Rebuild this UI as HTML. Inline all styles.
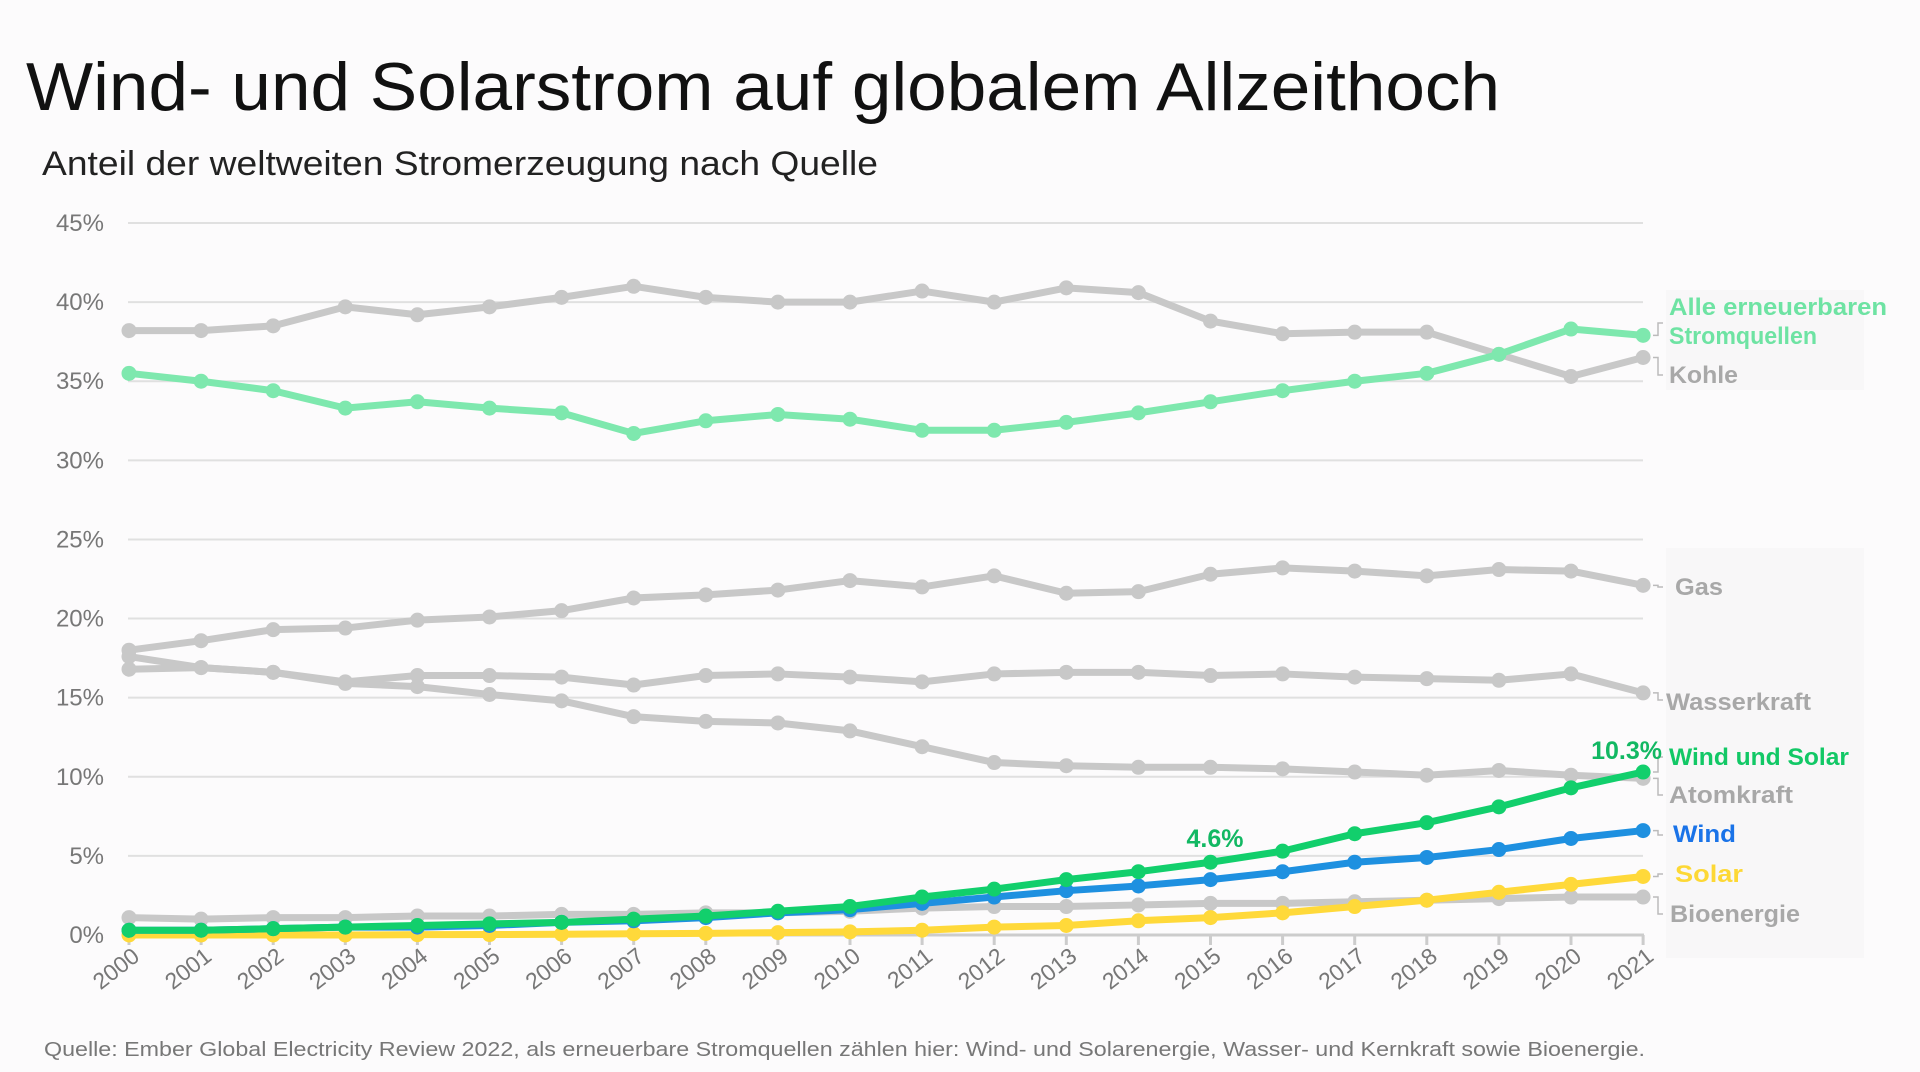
<!DOCTYPE html>
<html><head><meta charset="utf-8"><style>
html,body{margin:0;padding:0;background:#fcfbfc;}
svg{display:block;font-family:"Liberation Sans",sans-serif;}
</style></head><body>
<svg id="s" width="1920" height="1072" viewBox="0 0 1920 1072">
<rect width="1920" height="1072" fill="#fcfbfc"/>
<rect x="1666" y="290" width="198" height="100" fill="#f8f7f8"/>
<rect x="1666" y="548" width="198" height="410" fill="#f8f7f8"/>
<text x="26" y="110" font-size="68" fill="#111" textLength="1474" lengthAdjust="spacingAndGlyphs">Wind- und Solarstrom auf globalem Allzeithoch</text>
<text x="42" y="175" font-size="34" fill="#222" textLength="836" lengthAdjust="spacingAndGlyphs">Anteil der weltweiten Stromerzeugung nach Quelle</text>
<text x="44" y="1056" font-size="20" fill="#777" textLength="1601" lengthAdjust="spacingAndGlyphs">Quelle: Ember Global Electricity Review 2022, als erneuerbare Stromquellen zählen hier: Wind- und Solarenergie, Wasser- und Kernkraft sowie Bioenergie.</text>
<g id="g"></g>
</svg>
<script>
var g=document.getElementById('g'),NS='http://www.w3.org/2000/svg';
function el(t,a,txt){var e=document.createElementNS(NS,t);for(var k in a)e.setAttribute(k,a[k]);if(txt!==undefined)e.textContent=txt;g.appendChild(e);return e;}
var X0=129,DX=72.1,Y0=935,DY=79.11/5;
function X(i){return X0+i*DX}function Y(v){return Y0-v*DY}
for(var p=0;p<=45;p+=5){var y=Y(p);
 if(p>0)el('line',{x1:128,x2:1643,y1:y,y2:y,stroke:'#e0e0e0','stroke-width':2});
 el('text',{x:104,y:y+8,'font-size':24,fill:'#777','text-anchor':'end'},p+'%');}
el('line',{x1:128,x2:1644,y1:Y0,y2:Y0,stroke:'#ccc','stroke-width':3});
for(var i=0;i<22;i++){el('line',{x1:X(i),x2:X(i),y1:Y0,y2:Y0+10,stroke:'#ccc','stroke-width':3});
 var tx=X(i)+12,ty=Y0+24;
 el('text',{x:tx,y:ty,'font-size':23,fill:'#777','text-anchor':'end',transform:'rotate(-38 '+tx+' '+ty+')'},String(2000+i));}
var S=[
['#c8c8c8',[38.2,38.2,38.5,39.7,39.2,39.7,40.3,41.0,40.3,40.0,40.0,40.7,40.0,40.9,40.6,38.8,38.0,38.1,38.1,36.7,35.3,36.5]],
['#c8c8c8',[18.0,18.6,19.3,19.4,19.9,20.1,20.5,21.3,21.5,21.8,22.4,22.0,22.7,21.6,21.7,22.8,23.2,23.0,22.7,23.1,23.0,22.1]],
['#c8c8c8',[16.8,16.9,16.6,16.0,16.4,16.4,16.3,15.8,16.4,16.5,16.3,16.0,16.5,16.6,16.6,16.4,16.5,16.3,16.2,16.1,16.5,15.3]],
['#c8c8c8',[17.6,16.9,16.6,15.9,15.7,15.2,14.8,13.8,13.5,13.4,12.9,11.9,10.9,10.7,10.6,10.6,10.5,10.3,10.1,10.4,10.1,9.9]],
['#c8c8c8',[1.1,1.0,1.1,1.1,1.2,1.2,1.3,1.3,1.4,1.4,1.5,1.7,1.8,1.8,1.9,2.0,2.0,2.1,2.2,2.3,2.4,2.4]],
['#7ee8ae',[35.5,35.0,34.4,33.3,33.7,33.3,33.0,31.7,32.5,32.9,32.6,31.9,31.9,32.4,33.0,33.7,34.4,35.0,35.5,36.7,38.3,37.9]],
['#ffd93a',[0,0,0,0,0.02,0.03,0.05,0.08,0.1,0.15,0.2,0.3,0.5,0.6,0.9,1.1,1.4,1.8,2.2,2.7,3.2,3.7]],
['#1e90e0',[0.3,0.3,0.4,0.5,0.5,0.6,0.8,0.9,1.1,1.4,1.6,2.0,2.4,2.8,3.1,3.5,4.0,4.6,4.9,5.4,6.1,6.6]],
['#12cf6c',[0.3,0.3,0.4,0.5,0.6,0.7,0.8,1.0,1.2,1.5,1.8,2.4,2.9,3.5,4.0,4.6,5.3,6.4,7.1,8.1,9.3,10.3]]];
S.forEach(function(s){var pts=s[1].map(function(v,i){return X(i)+','+Y(v)}).join(' ');
 el('polyline',{points:pts,fill:'none',stroke:s[0],'stroke-width':7,'stroke-linejoin':'round'});
 s[1].forEach(function(v,i){el('circle',{cx:X(i),cy:Y(v),r:7.5,fill:s[0]})});});
// connectors
var C=[[Y(37.9),323],[Y(36.5),375],[Y(22.1),587],[Y(15.3),700],[Y(10.3),757],[Y(9.9),795],[Y(6.6),835],[Y(3.7),874],[Y(2.4),914]];
C.forEach(function(c){el('polyline',{points:'1653,'+c[0]+' 1658,'+c[0]+' 1658,'+c[1]+' 1663,'+c[1],fill:'none',stroke:'#bbb','stroke-width':1.5})});
var L=[['Alle erneuerbaren',1669,315,'#6ee3a3',218],['Stromquellen',1669,344,'#6ee3a3',148],['Kohle',1669,383,'#a8a8a8',69],['Gas',1675,595,'#a8a8a8',48],['Wasserkraft',1666,710,'#a8a8a8',145],['Wind und Solar',1669,765,'#12c866',180],['Atomkraft',1669,803,'#a8a8a8',124],['Wind',1673,842,'#1a73e8',63],['Solar',1675,882,'#fdd835',68],['Bioenergie',1670,922,'#a8a8a8',130]];
L.forEach(function(l){el('text',{x:l[1],y:l[2],'font-size':24,'font-weight':'bold',fill:l[3],textLength:l[4],lengthAdjust:'spacingAndGlyphs'},l[0])});
el('text',{x:1662,y:759,'font-size':25,'font-weight':'bold',fill:'#12b863','text-anchor':'end'},'10.3%');
el('text',{x:1215,y:847,'font-size':25,'font-weight':'bold',fill:'#12b863','text-anchor':'middle'},'4.6%');
</script>
</body></html>
